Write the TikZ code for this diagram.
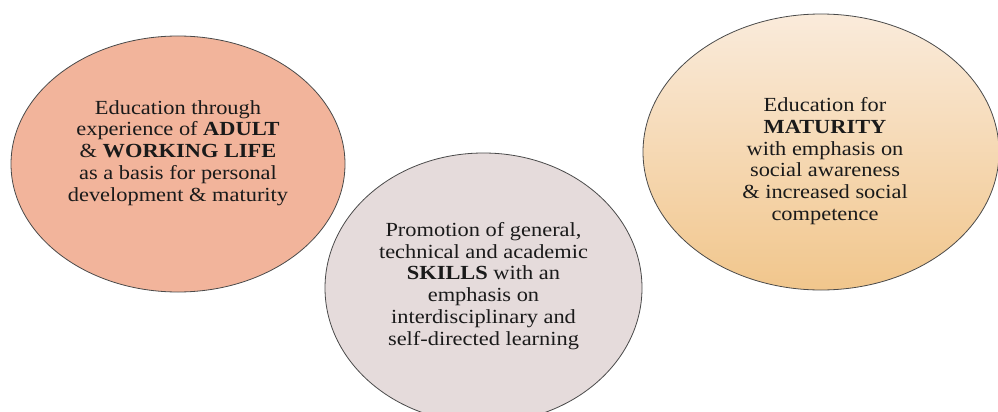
\documentclass[tikz,border=0pt]{standalone}
\usepackage{fontspec}
\setmainfont[FakeStretch=1.12]{Liberation Serif}
\usetikzlibrary{shapes.geometric}
\definecolor{salmon}{HTML}{F2B49B}
\definecolor{mauve}{HTML}{E5DBDB}
\definecolor{creamtop}{HTML}{FAEBDB}
\definecolor{orangebot}{HTML}{F1C68C}
\definecolor{rim}{HTML}{4A4A4A}
\definecolor{ink}{HTML}{1A1A1A}
\tikzset{
  bubble/.style={ellipse, draw=rim, line width=0.8pt, inner sep=0pt},
  bubbletext/.style={align=center, text=ink, inner sep=0pt,
    font=\fontsize{20}{21.8}\selectfont},
}
\begin{document}
\begin{tikzpicture}[x=1pt,y=-1pt]
\useasboundingbox (0,0) rectangle (998,412);
\clip (0,0) rectangle (998,412);
\fill[white] (0,0) rectangle (998,412);
\node[bubble, fill=salmon, minimum width=334pt, minimum height=256pt] (adult) at (178,164) {};
\node[bubbletext] (adulttext) at (178,153)
  {Education through\\experience of \textbf{ADULT}\\\& \textbf{WORKING LIFE}\\as a basis for personal\\development \& maturity};
\node[bubble, fill=mauve, minimum width=317pt, minimum height=270pt] (skills) at (483.5,288) {};
\node[bubbletext] (skillstext) at (483.5,286)
  {Promotion of general,\\technical and academic\\\textbf{SKILLS} with an\\emphasis on\\interdisciplinary and\\self-directed learning};
\node[bubble, top color=creamtop, bottom color=orangebot, minimum width=356pt, minimum height=276pt] (maturity) at (821,152) {};
\node[bubbletext] (maturitytext) at (825,161)
  {Education for\\\textbf{MATURITY}\\with emphasis on\\social awareness\\\& increased social\\competence};
\end{tikzpicture}
\end{document}
